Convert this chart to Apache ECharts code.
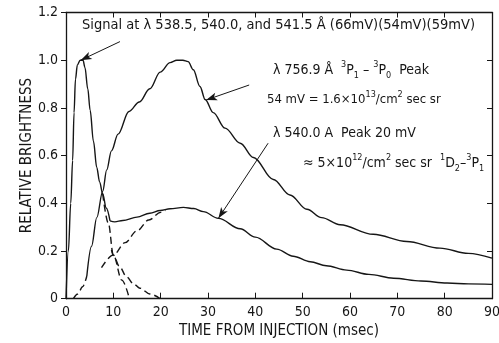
<!DOCTYPE html>
<html>
<head>
<meta charset="utf-8">
<script src="https://cdn.jsdelivr.net/npm/echarts@6/dist/echarts.min.js"></script>
<style>
  html, body { margin: 0; padding: 0; background: #fff; }
  #chart { width: 499px; height: 343px; }
</style>
</head>
<body>
<div id="chart"></div>
<script>
// time (msec), relative brightness
const spikeSolid = [[0, 0], [0.5, 0.2], [1.0, 0.4], [1.4, 0.58], [1.7, 0.78], [2.0, 0.92], [2.4, 0.98], [3.0, 1.0],
  [3.6, 1.0], [4.0, 0.97], [4.6, 0.88], [5.1, 0.79], [5.8, 0.66], [6.5, 0.55], [7.1, 0.49], [7.75, 0.44], [8.5, 0.38], [9.3, 0.326]];
const spikeDashed = [[7.75, 0.44], [8.95, 0.316], [10, 0.183], [11.8, 0.078], [13.4, 0]];
const peak756Dashed = [[1.55, 0], [2.5, 0.02], [3.5, 0.05], [4.4, 0.095]];
const peak756Solid = [[4.4, 0.095], [5.4, 0.22], [6.5, 0.34], [7.75, 0.45], [8.6, 0.54], [9.6, 0.62], [11, 0.69],
  [13.3, 0.785], [15.5, 0.825], [17.7, 0.88], [19.9, 0.95], [22, 0.99], [23.4, 1.0], [24.7, 1.0], [25.8, 0.994],
  [26.9, 0.96], [28.3, 0.89], [29.4, 0.835], [31.1, 0.78], [33.6, 0.715], [36.8, 0.652], [39.6, 0.592], [43.8, 0.5],
  [47.3, 0.435], [50.9, 0.375], [54, 0.34], [57.9, 0.31], [64.9, 0.27], [72, 0.24], [79, 0.212], [85, 0.19], [90, 0.17]];
const peak540Solid = [[9.3, 0.326], [10.3, 0.322], [12, 0.328], [15, 0.342], [17.7, 0.358], [19.9, 0.37], [22, 0.377],
  [24.8, 0.383], [27, 0.378], [29, 0.365], [32.2, 0.337], [36.8, 0.293], [40, 0.258], [44.5, 0.208], [48, 0.178],
  [51.6, 0.155], [55, 0.138], [59.3, 0.12], [64, 0.102], [69.2, 0.086], [75, 0.074], [80.5, 0.066], [85, 0.062], [90, 0.06]];
const peak540Dashed = [[7.5, 0.13], [10, 0.183], [12.5, 0.235], [15, 0.285], [17.5, 0.33], [20, 0.362], [21, 0.37]];
const decayDashed = [[9.6, 0.205], [10, 0.183], [11.3, 0.135], [12.8, 0.092], [14.2, 0.064], [15.6, 0.044], [17.7, 0.02], [19.9, 0]];
const yTickLabels = ['0', '0.2', '0.4', '0.6', '0.8', '1.0', '1.2'];

// arrows: [tail, head] in data units
const arrowSignal = [[11.4, 1.078], [3.1, 1.0]];
const arrow756 = [[38.7, 0.896], [29.6, 0.833]];
const arrow540 = [[42.7, 0.652], [32.2, 0.337]];

const font = '"Liberation Sans Narrow", "DejaVu Sans Condensed", "Liberation Sans", sans-serif';
const ink = '#161616';

const chart = echarts.init(document.getElementById('chart'));

const lineSeries = (data, dashed) => ({
  type: 'line',
  data: data,
  showSymbol: false,
  smooth: 0.35,
  smoothMonotone: 'x',
  silent: true,
  lineStyle: { color: ink, width: 1.4, type: dashed ? [7, 4] : 'solid' },
});

const arrowLine = (pts, curveness) => [
  { coord: pts[0], lineStyle: { curveness: curveness || 0 } },
  { coord: pts[1] },
];

const richAt = (size) => ({
  t: { fontSize: size, fontFamily: font, color: ink, lineHeight: 20 },
  s: { fontSize: 9, fontFamily: font, color: ink, lineHeight: 9, verticalAlign: 'top' },
  b: { fontSize: 9, fontFamily: font, color: ink, lineHeight: 9, verticalAlign: 'bottom' },
});

const note = (x, y, text, size) => ({
  type: 'text',
  left: x,
  top: y,
  silent: true,
  style: { text: text, rich: richAt(size || 14), fill: ink },
});

// top and right frame: ticks inward, no labels
const frameAxis = (extra) => Object.assign({
  type: 'value',
  axisLine: { show: true, onZero: false, lineStyle: { color: ink, width: 1.3 } },
  axisTick: { show: true, inside: true, length: 5, lineStyle: { color: ink } },
  axisLabel: { show: false },
  splitLine: { show: false },
}, extra);

chart.setOption({
  animation: false,
  grid: { left: 66, right: 7, top: 12.5, bottom: 44.3, outerBoundsMode: 'none' },
  xAxis: [
    {
      type: 'value',
      min: 0,
      max: 90,
      interval: 10,
      name: 'TIME FROM INJECTION (msec)',
      nameLocation: 'middle',
      nameGap: 25,
      nameMoveOverlap: false,
      nameTextStyle: { fontFamily: font, fontSize: 15, color: ink },
      axisLine: { show: true, onZero: false, lineStyle: { color: ink, width: 1.3 } },
      axisTick: { show: true, inside: true, length: 6, lineStyle: { color: ink } },
      axisLabel: { margin: 7, fontFamily: font, fontSize: 14, color: ink },
      splitLine: { show: false },
    },
    frameAxis({ position: 'top', min: 0, max: 90, interval: 10 }),
  ],
  yAxis: [
    {
      type: 'value',
      min: 0,
      max: 1.2,
      interval: 0.2,
      name: 'RELATIVE BRIGHTNESS',
      nameLocation: 'middle',
      nameGap: 31,
      nameMoveOverlap: false,
      nameTextStyle: { fontFamily: font, fontSize: 15, color: ink },
      axisLine: { show: true, onZero: false, lineStyle: { color: ink, width: 1.3 } },
      axisTick: { show: true, inside: false, length: 5, lineStyle: { color: ink } },
      axisLabel: {
        margin: 8,
        fontFamily: font,
        fontSize: 14,
        color: ink,
        formatter: (v) => yTickLabels[Math.round(v / 0.2)],
      },
      splitLine: { show: false },
    },
    frameAxis({ position: 'right', min: 0, max: 1.2, interval: 0.2 }),
  ],
  series: [
    Object.assign(lineSeries(spikeSolid, false), {
      markLine: {
        silent: true,
        symbol: ['none', 'arrow'],
        symbolSize: [6, 11],
        label: { show: false },
        lineStyle: { color: ink, width: 1, type: 'solid' },
        data: [arrowLine(arrowSignal), arrowLine(arrow756), arrowLine(arrow540, 0.25)],
      },
    }),
    lineSeries(spikeDashed, true),
    lineSeries(peak756Dashed, true),
    lineSeries(peak756Solid, false),
    Object.assign(lineSeries(peak540Solid, false), { xAxisIndex: 1, yAxisIndex: 1 }),
    lineSeries(peak540Dashed, true),
    lineSeries(decayDashed, true),
  ],
  graphic: [
    note(82, 18, '{t|Signal at λ 538.5, 540.0, and 541.5 Å (66mV)(54mV)(59mV)}', 14.5),
    note(273, 60, '{t|λ 756.9 Å  }{s|3}{t|P}{b|1}{t| – }{s|3}{t|P}{b|0}{t|  Peak}'),
    note(267, 90, '{t|54 mV = 1.6×10}{s|13}{t|/cm}{s|2}{t| sec sr}', 13),
    note(273, 126, '{t|λ 540.0 A  Peak 20 mV}'),
    note(303, 153, '{t|≈ 5×10}{s|12}{t|/cm}{s|2}{t| sec sr  }{s|1}{t|D}{b|2}{t|–}{s|3}{t|P}{b|1}'),
  ],
});
</script>
</body>
</html>
